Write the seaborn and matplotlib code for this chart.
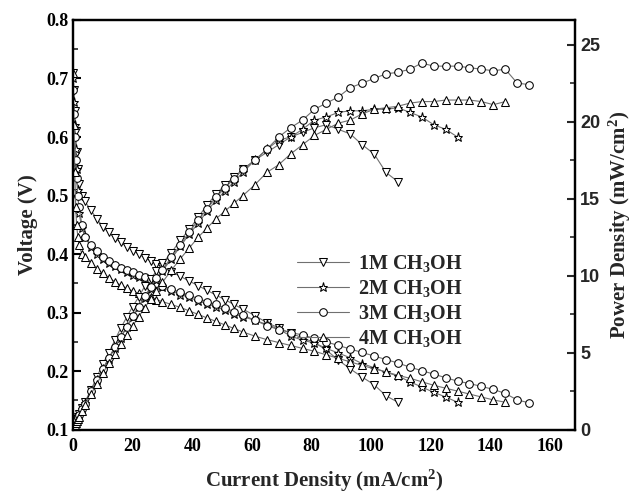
import matplotlib
matplotlib.use("Agg")
import matplotlib.pyplot as plt
import seaborn as sns
from matplotlib.ticker import MultipleLocator, FormatStrFormatter

sns.set_style("white")
plt.rcParams['font.family'] = ['Liberation Serif', 'DejaVu Serif']
plt.rcParams['font.weight'] = 'bold'
plt.rcParams['mathtext.fontset'] = 'custom'
plt.rcParams['mathtext.rm'] = 'Liberation Serif:bold'
plt.rcParams['mathtext.bf'] = 'Liberation Serif:bold'
plt.rcParams['mathtext.it'] = 'Liberation Serif:bold'

# Current density grid (mA/cm2); each series uses the first len(values) points
current = [0, 0.3, 0.6, 0.9, 1.2, 1.6, 2, 3, 4,
           6, 8, 10, 12, 14, 16, 18, 20, 22, 24, 26, 28, 30,
           33, 36, 39, 42, 45, 48, 51, 54, 57,
           61, 65, 69, 73, 77, 81, 85, 89, 93, 97, 101, 105, 109,
           113, 117, 121, 125, 129, 133, 137, 141, 145, 149, 153]

labels = ["1M CH$_3$OH", "2M CH$_3$OH", "3M CH$_3$OH", "4M CH$_3$OH"]
markers = ["v", "*", "o", "^"]

voltage_1m = [0.71, 0.68, 0.645, 0.61, 0.575, 0.545, 0.52, 0.50, 0.49,
              0.475, 0.46, 0.447, 0.437, 0.428, 0.42, 0.413, 0.406, 0.40, 0.394, 0.388, 0.383, 0.378,
              0.37, 0.362, 0.354, 0.346, 0.338, 0.33, 0.322, 0.314, 0.306,
              0.295, 0.283, 0.274, 0.265, 0.257, 0.249, 0.236, 0.219, 0.204, 0.19, 0.177, 0.158, 0.147]
voltage_2m = [0.70, 0.66, 0.62, 0.58, 0.545, 0.51, 0.47, 0.445, 0.43,
              0.412, 0.40, 0.392, 0.385, 0.379, 0.374, 0.369, 0.365, 0.361, 0.357, 0.352, 0.347, 0.343,
              0.337, 0.331, 0.326, 0.32, 0.315, 0.31, 0.304, 0.298, 0.293,
              0.287, 0.28, 0.272, 0.26, 0.253, 0.248, 0.239, 0.231, 0.223, 0.213, 0.206, 0.198, 0.192,
              0.182, 0.173, 0.164, 0.156, 0.147]
voltage_3m = [0.68, 0.64, 0.60, 0.56, 0.53, 0.50, 0.48, 0.45, 0.43,
              0.415, 0.405, 0.395, 0.388, 0.382, 0.377, 0.373, 0.369, 0.365, 0.361, 0.356, 0.351, 0.346,
              0.34, 0.335, 0.33, 0.324, 0.319, 0.314, 0.308, 0.302, 0.296,
              0.287, 0.278, 0.271, 0.266, 0.262, 0.256, 0.25, 0.244, 0.238, 0.232, 0.226, 0.22, 0.214,
              0.207, 0.201, 0.195, 0.189, 0.183, 0.179, 0.174, 0.169, 0.162, 0.151, 0.146]
voltage_4m = [0.71, 0.62, 0.54, 0.48, 0.45, 0.43, 0.415, 0.40, 0.395,
              0.385, 0.375, 0.367, 0.36, 0.353, 0.347, 0.342, 0.337, 0.333, 0.329, 0.326, 0.322, 0.319,
              0.314, 0.309, 0.303, 0.297, 0.291, 0.285, 0.279, 0.273, 0.267,
              0.26, 0.254, 0.249, 0.244, 0.239, 0.234, 0.228, 0.222, 0.216, 0.21, 0.204, 0.199, 0.193,
              0.188, 0.182, 0.176, 0.171, 0.166, 0.161, 0.156, 0.151, 0.147]

power_1m = [0, 0.2, 0.38, 0.54, 0.68, 0.86, 1.0, 1.4, 1.8,
            2.6, 3.4, 4.3, 5.0, 5.8, 6.6, 7.3, 8.0, 8.6, 9.3, 9.8, 10.3, 10.8,
            11.5, 12.3, 13.0, 13.8, 14.6, 15.3, 15.9, 16.4, 16.9,
            17.5, 18.0, 18.5, 19.0, 19.3, 19.6, 19.8, 19.5, 19.2, 18.5, 17.9, 16.7, 16.1]
power_2m = [0, 0.2, 0.37, 0.52, 0.65, 0.82, 0.94, 1.33, 1.72,
            2.47, 3.2, 3.92, 4.62, 5.3, 5.98, 6.64, 7.3, 7.94, 8.57, 9.15, 9.72, 10.3,
            11.1, 11.9, 12.7, 13.4, 14.2, 14.9, 15.5, 16.1, 16.7,
            17.5, 18.2, 18.8, 19.0, 19.5, 20.1, 20.3, 20.6, 20.7, 20.7, 20.8, 20.8, 20.9,
            20.6, 20.3, 19.8, 19.5, 19.0]
power_3m = [0, 0.19, 0.36, 0.5, 0.64, 0.8, 0.96, 1.35, 1.7,
            2.5, 3.25, 3.95, 4.65, 5.35, 6.0, 6.7, 7.4, 8.0, 8.65, 9.25, 9.85, 10.4,
            11.2, 12.0, 12.85, 13.6, 14.35, 15.1, 15.7, 16.3, 16.9,
            17.5, 18.2, 19.0, 19.6, 20.1, 20.8, 21.2, 21.6, 22.2, 22.5, 22.8, 23.1, 23.2,
            23.4, 23.8, 23.6, 23.6, 23.6, 23.5, 23.4, 23.3, 23.4, 22.5, 22.4]
power_4m = [0, 0.19, 0.32, 0.43, 0.54, 0.69, 0.83, 1.2, 1.58,
            2.3, 3.0, 3.67, 4.32, 4.94, 5.55, 6.16, 6.74, 7.33, 7.9, 8.48, 9.0, 9.57,
            10.36, 11.1, 11.8, 12.5, 13.1, 13.7, 14.2, 14.7, 15.2,
            15.9, 16.7, 17.2, 17.9, 18.5, 19.1, 19.5, 19.9, 20.1, 20.5, 20.8, 20.9, 21.0,
            21.2, 21.3, 21.3, 21.4, 21.4, 21.4, 21.3, 21.1, 21.3]

voltages = [voltage_1m, voltage_2m, voltage_3m, voltage_4m]
powers = [power_1m, power_2m, power_3m, power_4m]

fig = plt.figure(figsize=(6.35, 4.98), dpi=100)
ax = fig.add_axes([0.115, 0.137, 0.791, 0.823])
ax2 = ax.twinx()

line_kw = dict(color="#707070", linewidth=0.8, markerfacecolor="white",
               markeredgecolor="black", markeredgewidth=0.75)

handles = []
for v, p, m, lab in zip(voltages, powers, markers, labels):
    ms = 6.5 if m == "*" else 5.5
    sns.lineplot(x=current[:len(v)], y=v, ax=ax, marker=m, markersize=ms,
                 errorbar=None, legend=False, **line_kw)
    handles.append(ax.lines[-1])
    sns.lineplot(x=current[:len(p)], y=p, ax=ax2, marker=m, markersize=ms,
                 errorbar=None, legend=False, **line_kw)

ax.set_xlim(0, 168.5)
ax.set_ylim(0.1, 0.8)
ax2.set_ylim(0, 26.6)

ax.xaxis.set_major_locator(MultipleLocator(20))
ax.xaxis.set_minor_locator(MultipleLocator(10))
ax.yaxis.set_major_locator(MultipleLocator(0.1))
ax.yaxis.set_minor_locator(MultipleLocator(0.05))
ax.yaxis.set_major_formatter(FormatStrFormatter('%.1f'))
ax2.yaxis.set_major_locator(MultipleLocator(5))
ax2.yaxis.set_minor_locator(MultipleLocator(2.5))

for a in (ax, ax2):
    for s in a.spines.values():
        s.set_linewidth(1.6)
        s.set_color("black")
ax.tick_params(axis='both', which='major', direction='in', length=6, width=1.5,
               labelsize=13, colors='black', top=False)
ax.tick_params(axis='both', which='minor', direction='in', length=3.5, width=1.2, top=False)
ax.tick_params(axis='x', pad=6)
ax2.tick_params(axis='y', which='major', direction='in', length=6, width=1.5, labelsize=13)
ax2.tick_params(axis='y', which='minor', direction='in', length=3.5, width=1.2)
for t in ax2.get_yticklabels():
    t.set_fontfamily(['Liberation Sans', 'DejaVu Sans'])
    t.set_fontweight('bold')

ax.set_xlabel("Current Density (mA/cm$^2$)", fontsize=15, fontweight='bold', labelpad=9)
ax.set_ylabel("Voltage (V)", fontsize=15, fontweight='bold', labelpad=6)
ax2.set_ylabel("Power Density (mW/cm$^2$)", fontsize=15, fontweight='bold', labelpad=5)

ax.legend(handles, labels, loc='upper left', bbox_to_anchor=(0.41, 0.475),
          frameon=False, handlelength=2.6, labelspacing=0.2, handletextpad=0.4,
          prop={'family': 'Liberation Serif', 'weight': 'bold', 'size': 14.5})

fig.savefig("out.png", dpi=100)
